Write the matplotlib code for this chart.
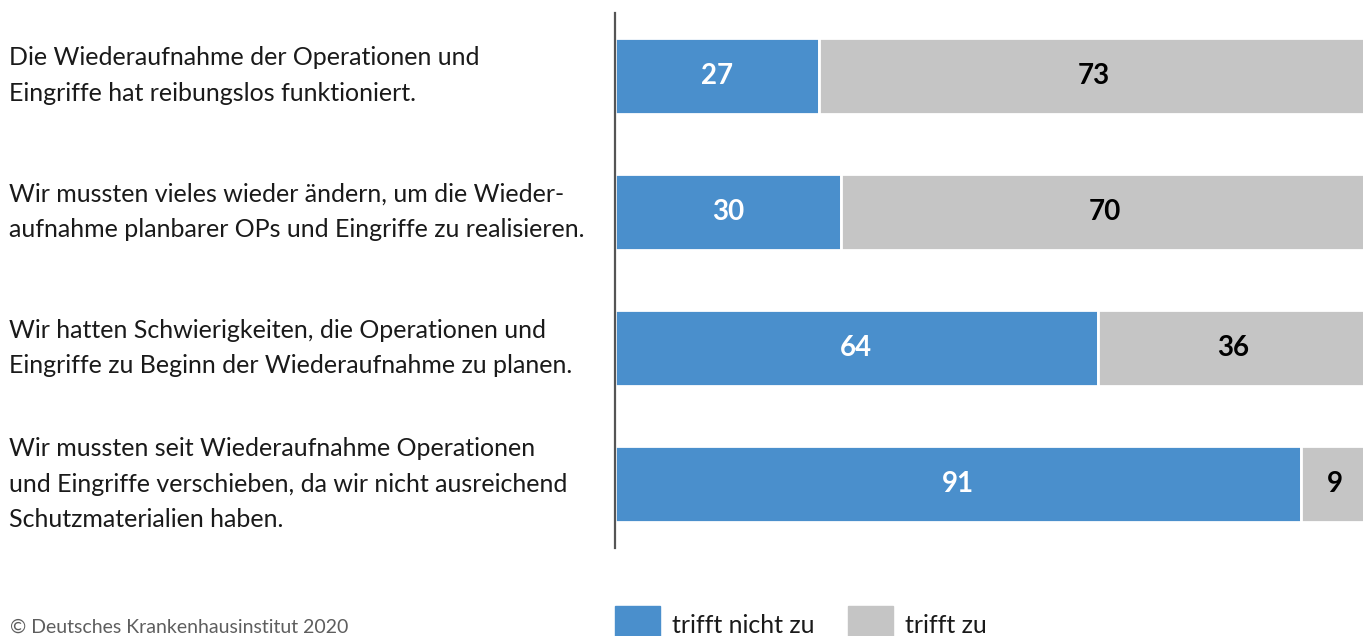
import matplotlib.pyplot as plt
from matplotlib.patches import Rectangle
import matplotlib.transforms as mtransforms

plt.rcParams['font.family'] = ['Lato', 'DejaVu Sans']

# Daten
statements = [
    "Die Wiederaufnahme der Operationen und\nEingriffe hat reibungslos funktioniert.",
    "Wir mussten vieles wieder ändern, um die Wieder-\naufnahme planbarer OPs und Eingriffe zu realisieren.",
    "Wir hatten Schwierigkeiten, die Operationen und\nEingriffe zu Beginn der Wiederaufnahme zu planen.",
    "Wir mussten seit Wiederaufnahme Operationen\nund Eingriffe verschieben, da wir nicht ausreichend\nSchutzmaterialien haben.",
]
trifft_nicht_zu = [27, 30, 64, 91]
trifft_zu = [73, 70, 36, 9]
series_labels = ['trifft nicht zu', 'trifft zu']
source = '© Deutsches Krankenhausinstitut 2020'

BLUE = '#4a8fcc'
GRAY = '#c5c5c5'

W, H = 1363, 636
fig = plt.figure(figsize=(W / 100, H / 100), dpi=100)

# Achse: links bei x=615 px, von y=13 bis y=548 px
ax = fig.add_axes([615 / W, 1 - 548 / H, 1 - 615 / W, (548 - 13) / H])

y = list(range(len(statements)))
bar_h = 0.56
ax.barh(y, trifft_nicht_zu, height=bar_h, color=BLUE, edgecolor='white', linewidth=2)
ax.barh(y, trifft_zu, left=trifft_nicht_zu, height=bar_h, color=GRAY,
        edgecolor='white', linewidth=2)

for i in y:
    a, b = trifft_nicht_zu[i], trifft_zu[i]
    ax.text(a / 2, i, str(a), ha='center', va='center', color='white',
            fontsize=20, fontweight='bold')
    ax.text(a + b / 2, i, str(b), ha='center', va='center', color='black',
            fontsize=20, fontweight='bold')

ax.set_xlim(0, 99.2)
ax.set_ylim(3.47, -0.46)
for s in ['top', 'right', 'bottom']:
    ax.spines[s].set_visible(False)
ax.spines['left'].set_color('#555555')
ax.spines['left'].set_linewidth(1.6)
ax.set_xticks([])
ax.set_yticks([])

# Beschriftungen links
trans = mtransforms.blended_transform_factory(fig.transFigure, ax.transData)
for i, txt in enumerate(statements):
    ax.text(9 / W, i, txt, transform=trans, ha='left', va='center',
            fontsize=18, color='#1a1a1a', linespacing=1.65, clip_on=False)

# Quelle
fig.text(10 / W, 1 - 633 / H, source, ha='left', va='baseline',
         fontsize=14, color='#5e5e5e')

# Legende
legend_items = [(615, BLUE, series_labels[0]), (848, GRAY, series_labels[1])]
for x0, col, lab in legend_items:
    fig.add_artist(Rectangle((x0 / W, 1 - 651 / H), 45 / W, 45 / H,
                             transform=fig.transFigure, color=col))
    fig.text((x0 + 57) / W, 1 - 633 / H, lab, ha='left', va='baseline',
             fontsize=18, color='#1a1a1a')

fig.savefig('out.png', dpi=100)
